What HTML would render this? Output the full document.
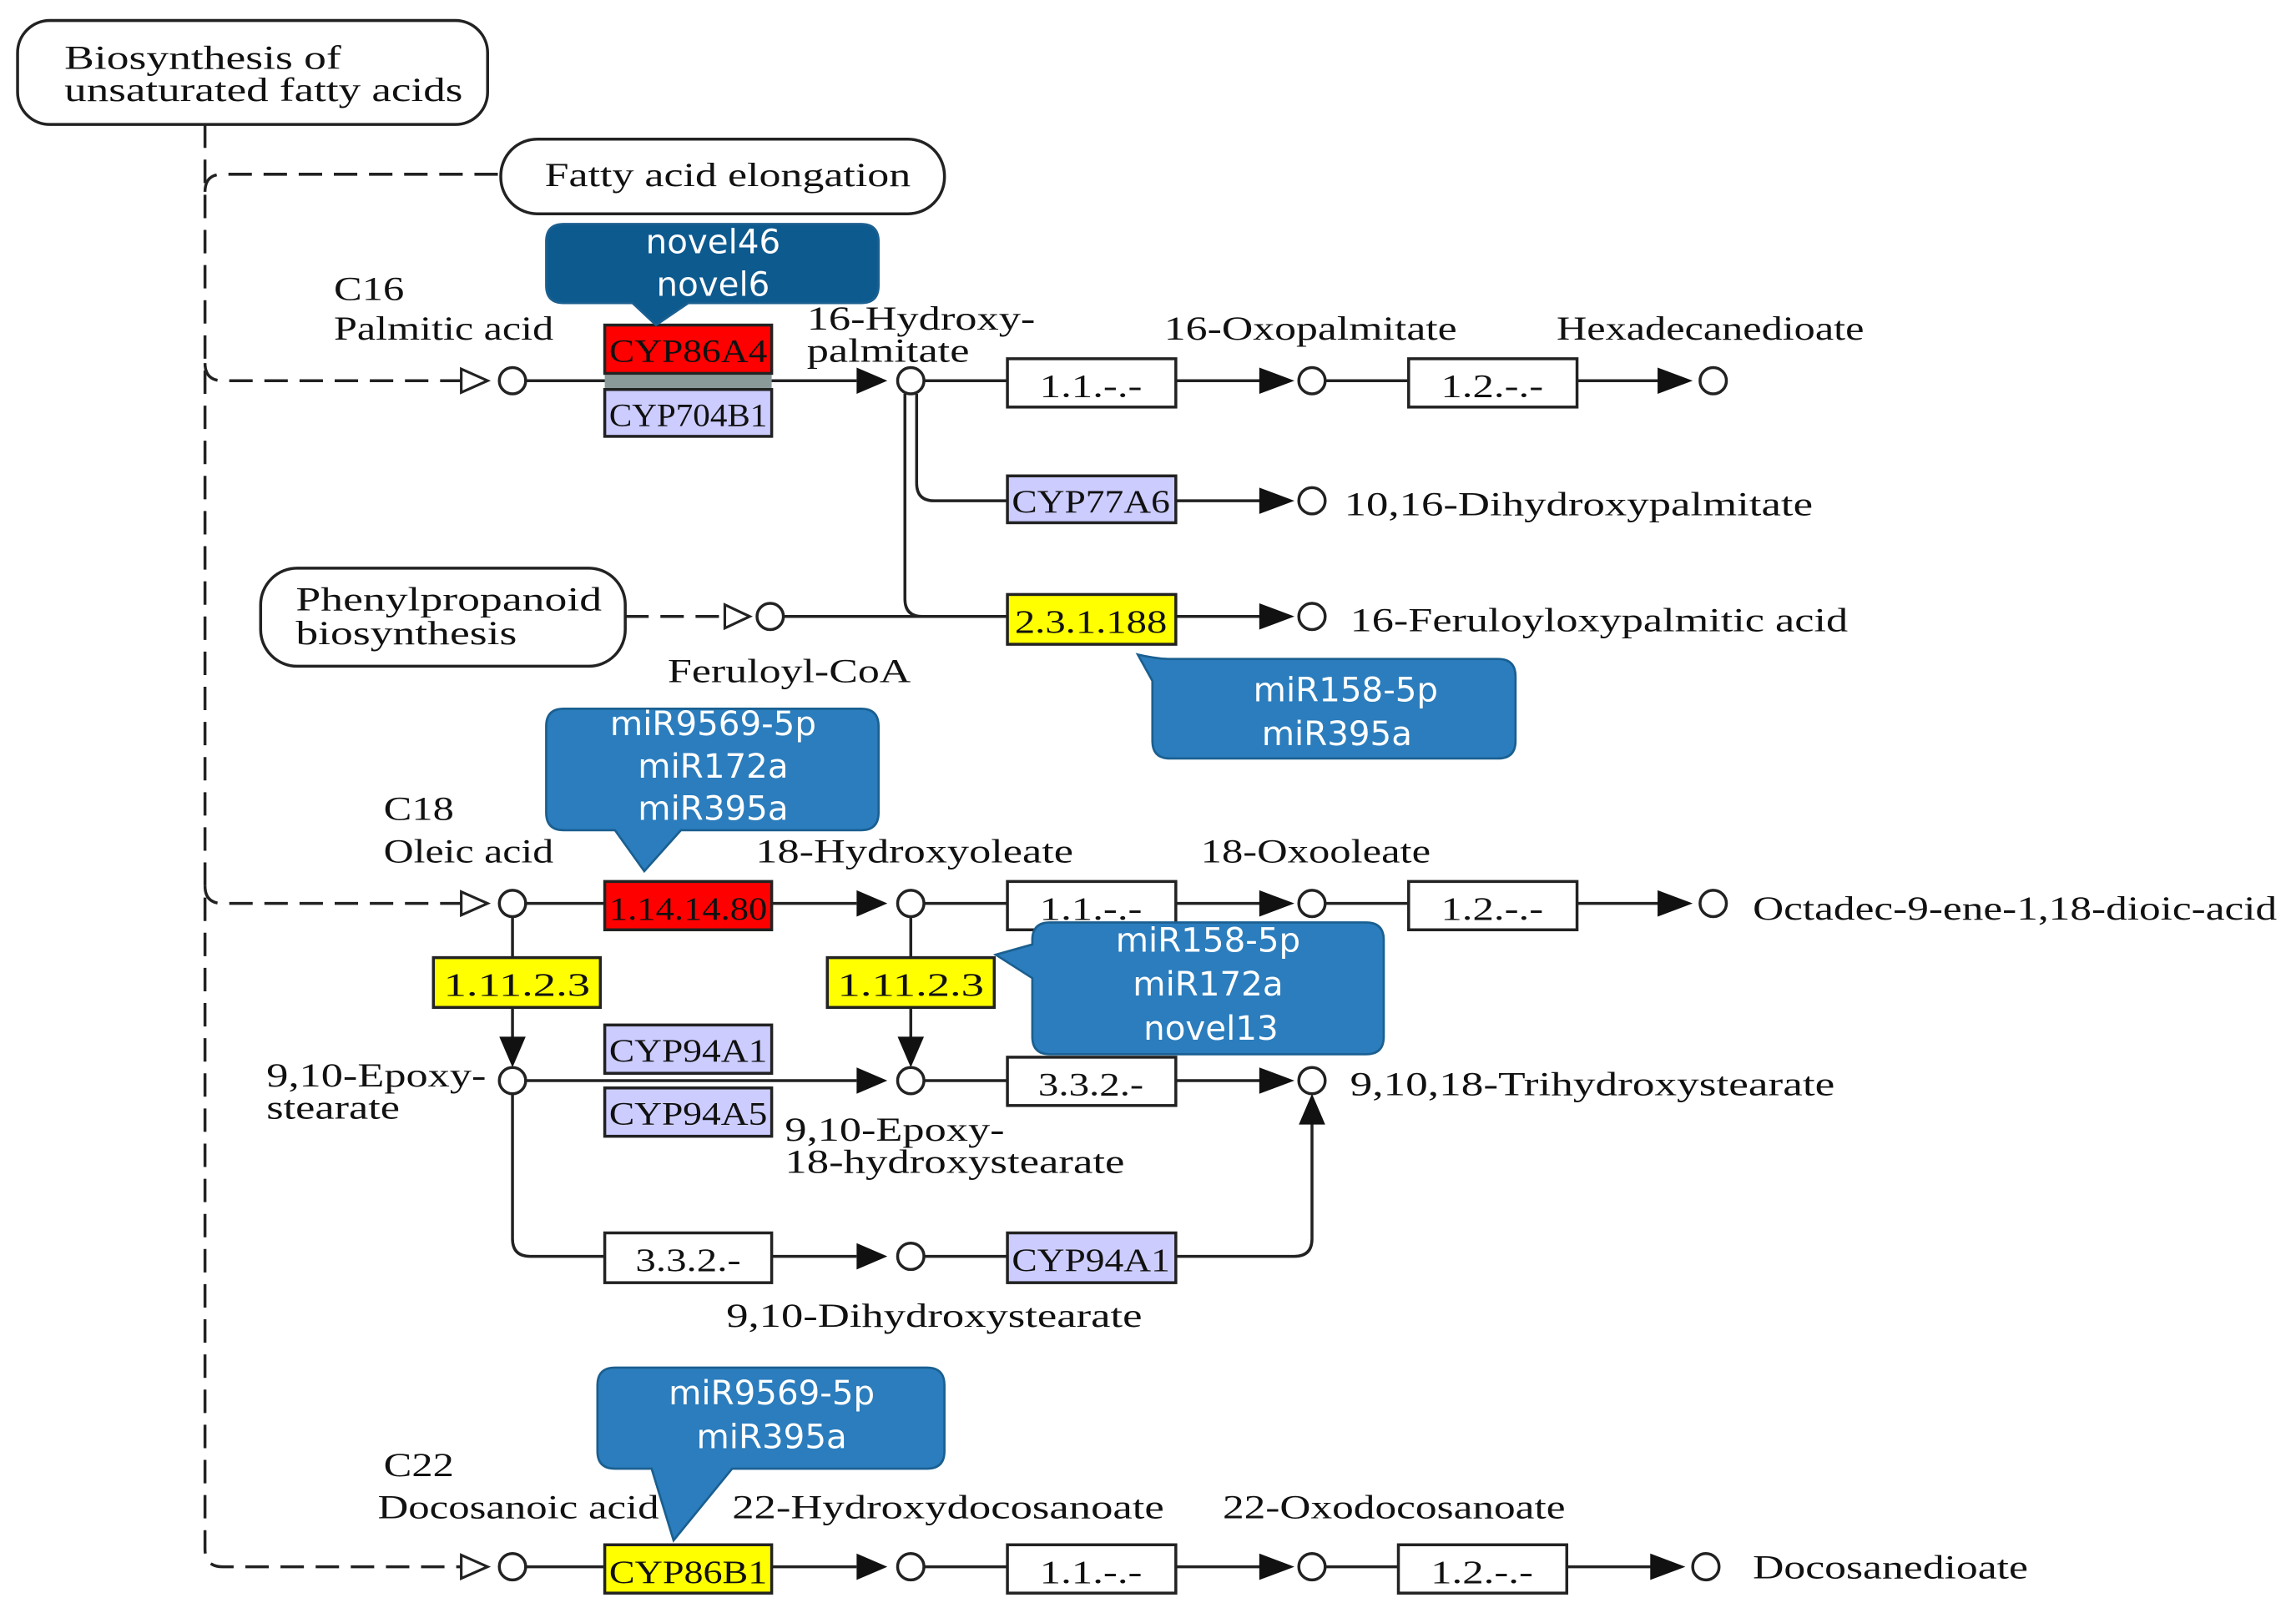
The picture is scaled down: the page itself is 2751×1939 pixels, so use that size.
<!DOCTYPE html>
<html><head><meta charset="utf-8"><style>
html,body{margin:0;padding:0;background:#fff;}
svg{display:block;}
.t{font-family:"Liberation Serif",serif;font-size:23px;fill:#111;}
.e{font-family:"Liberation Serif",serif;font-size:22px;fill:#111;text-anchor:middle;}
.c{font-family:"DejaVu Sans","Liberation Sans",sans-serif;font-size:23px;fill:#fff;text-anchor:middle;}
.ln{stroke:#222;stroke-width:2;fill:none;}
.ds{stroke:#222;stroke-width:2;fill:none;stroke-dasharray:16,8;}
.box{stroke:#222;stroke-width:2;}
</style></head><body>
<svg width="2751" height="1939" viewBox="0 0 1568 1105" preserveAspectRatio="none" xmlns="http://www.w3.org/2000/svg">
<rect width="1568" height="1105" fill="#fff"/>

<rect x="12" y="14" width="321" height="71" rx="22" class="box" fill="#fff"/>
<text class="t" x="44" y="47" textLength="189" lengthAdjust="spacingAndGlyphs">Biosynthesis of</text>
<text class="t" x="44" y="69" textLength="272" lengthAdjust="spacingAndGlyphs">unsaturated fatty acids</text>
<rect x="342" y="95" width="303" height="51" rx="25" class="box" fill="#fff"/>
<text class="t" x="372" y="127" textLength="250" lengthAdjust="spacingAndGlyphs">Fatty acid elongation</text>
<rect x="178" y="388" width="249" height="67" rx="25" class="box" fill="#fff"/>
<text class="t" x="202" y="417" textLength="209" lengthAdjust="spacingAndGlyphs">Phenylpropanoid</text>
<text class="t" x="202" y="440" textLength="151" lengthAdjust="spacingAndGlyphs">biosynthesis</text>

<path class="ds" d="M140,85 V1058 Q140,1070 152,1070 H315"/>
<path class="ds" d="M340,119 H152 Q140,119 140,131"/>
<path class="ds" d="M140,248 Q140,260 152,260 H315"/>
<path class="ds" d="M140,605 Q140,617 152,617 H315"/>
<path class="ds" d="M427,421 H495"/>
<g fill="#fff" stroke="#222" stroke-width="1.8">
<path d="M315,252 L333,260 L315,268z"/>
<path d="M315,609 L333,617 L315,625z"/>
<path d="M315,1062 L333,1070 L315,1078z"/>
<path d="M495,413 L512,421 L495,429z"/>
</g>

<g class="ln">
<path d="M359,260 H585"/><path d="M631,260 H688 M803,260 H880 M905,260 H962 M1077,260 H1150"/>
<path d="M626,269 V330 Q626,342 638,342 H688 M803,342 H880"/>
<path d="M618,269 V409 Q618,421 630,421"/>
<path d="M535,421 H688 M803,421 H880"/>
<path d="M359,617 H413 M527,617 H585 M631,617 H688 M803,617 H880 M905,617 H962 M1077,617 H1150"/>
<path d="M350,626 V718"/><path d="M622,626 V718"/>
<path d="M359,738 H585 M631,738 H688 M803,738 H880"/>
<path d="M350,747 V846 Q350,858 362,858 H413 M527,858 H585 M631,858 H688 M803,858 H884 Q896,858 896,846 V760"/>
<path d="M359,1070 H413 M527,1070 H585 M631,1070 H688 M803,1070 H880 M905,1070 H955 M1070,1070 H1145"/>
</g>
<g fill="#111">
<path d="M585,251 L606,260 L585,269z"/>
<path d="M860,251 L884,260 L860,269z"/><path d="M1132,251 L1156,260 L1132,269z"/>
<path d="M860,333 L884,342 L860,351z"/><path d="M860,412 L884,421 L860,430z"/>
<path d="M585,608 L606,617 L585,626z"/><path d="M860,608 L884,617 L860,626z"/><path d="M1132,608 L1156,617 L1132,626z"/>
<path d="M341,708 L350,729 L359,708z"/><path d="M613,708 L622,729 L631,708z"/>
<path d="M585,729 L606,738 L585,747z"/><path d="M860,729 L884,738 L860,747z"/>
<path d="M887,768 L896,747 L905,768z"/>
<path d="M585,849 L606,858 L585,867z"/>
<path d="M585,1061 L606,1070 L585,1079z"/><path d="M860,1061 L884,1070 L860,1079z"/><path d="M1127,1061 L1151,1070 L1127,1079z"/>
</g>
<g fill="#fff" stroke="#222" stroke-width="2">
<circle cx="350" cy="260" r="9"/><circle cx="622" cy="260" r="9"/><circle cx="896" cy="260" r="9"/><circle cx="1170" cy="260" r="9"/>
<circle cx="896" cy="342" r="9"/><circle cx="526" cy="421" r="9"/><circle cx="896" cy="421" r="9"/>
<circle cx="350" cy="617" r="9"/><circle cx="622" cy="617" r="9"/><circle cx="896" cy="617" r="9"/><circle cx="1170" cy="617" r="9"/>
<circle cx="350" cy="738" r="9"/><circle cx="622" cy="738" r="9"/><circle cx="896" cy="738" r="9"/>
<circle cx="622" cy="858" r="9"/>
<circle cx="350" cy="1070" r="9"/><circle cx="622" cy="1070" r="9"/><circle cx="896" cy="1070" r="9"/><circle cx="1165" cy="1070" r="9"/>
</g>

<rect x="413" y="256" width="114" height="10" fill="#8a9a98"/>
<g class="box">
<rect x="413" y="222" width="114" height="33" fill="#f00"/>
<rect x="413" y="266" width="114" height="32" fill="#ccccff"/>
<rect x="688" y="245" width="115" height="33" fill="#fff"/>
<rect x="962" y="245" width="115" height="33" fill="#fff"/>
<rect x="688" y="325" width="115" height="32" fill="#ccccff"/>
<rect x="688" y="406" width="115" height="34" fill="#ff0"/>
<rect x="413" y="602" width="114" height="33" fill="#f00"/>
<rect x="688" y="602" width="115" height="33" fill="#fff"/>
<rect x="962" y="602" width="115" height="33" fill="#fff"/>
<rect x="296" y="654" width="114" height="34" fill="#ff0"/>
<rect x="565" y="654" width="114" height="34" fill="#ff0"/>
<rect x="413" y="700" width="114" height="33" fill="#ccccff"/>
<rect x="413" y="743" width="114" height="33" fill="#ccccff"/>
<rect x="688" y="722" width="115" height="33" fill="#fff"/>
<rect x="413" y="842" width="114" height="34" fill="#fff"/>
<rect x="688" y="842" width="115" height="34" fill="#ccccff"/>
<rect x="413" y="1055" width="114" height="33" fill="#ff0"/>
<rect x="688" y="1055" width="115" height="33" fill="#fff"/>
<rect x="955" y="1055" width="115" height="33" fill="#fff"/>
</g>
<g class="e">
<text x="470" y="247" textLength="108" lengthAdjust="spacingAndGlyphs">CYP86A4</text><text x="470" y="291" textLength="108" lengthAdjust="spacingAndGlyphs">CYP704B1</text>
<text x="745" y="271" textLength="70" lengthAdjust="spacingAndGlyphs">1.1.-.-</text><text x="1019" y="271" textLength="70" lengthAdjust="spacingAndGlyphs">1.2.-.-</text>
<text x="745" y="350" textLength="108" lengthAdjust="spacingAndGlyphs">CYP77A6</text><text x="745" y="432" textLength="104" lengthAdjust="spacingAndGlyphs">2.3.1.188</text>
<text x="470" y="628" textLength="108" lengthAdjust="spacingAndGlyphs">1.14.14.80</text><text x="745" y="628" textLength="70" lengthAdjust="spacingAndGlyphs">1.1.-.-</text><text x="1019" y="628" textLength="70" lengthAdjust="spacingAndGlyphs">1.2.-.-</text>
<text x="353" y="680" textLength="100" lengthAdjust="spacingAndGlyphs">1.11.2.3</text><text x="622" y="680" textLength="100" lengthAdjust="spacingAndGlyphs">1.11.2.3</text>
<text x="470" y="725" textLength="108" lengthAdjust="spacingAndGlyphs">CYP94A1</text><text x="470" y="768" textLength="108" lengthAdjust="spacingAndGlyphs">CYP94A5</text>
<text x="745" y="748" textLength="72" lengthAdjust="spacingAndGlyphs">3.3.2.-</text><text x="470" y="868" textLength="72" lengthAdjust="spacingAndGlyphs">3.3.2.-</text><text x="745" y="868" textLength="108" lengthAdjust="spacingAndGlyphs">CYP94A1</text>
<text x="470" y="1081" textLength="108" lengthAdjust="spacingAndGlyphs">CYP86B1</text><text x="745" y="1081" textLength="70" lengthAdjust="spacingAndGlyphs">1.1.-.-</text><text x="1012" y="1081" textLength="70" lengthAdjust="spacingAndGlyphs">1.2.-.-</text>
</g>

<g class="t">
<text x="228" y="205" textLength="48" lengthAdjust="spacingAndGlyphs">C16</text><text x="228" y="232" textLength="150" lengthAdjust="spacingAndGlyphs">Palmitic acid</text>
<text x="551" y="225" textLength="156" lengthAdjust="spacingAndGlyphs">16-Hydroxy-</text><text x="551" y="247" textLength="111" lengthAdjust="spacingAndGlyphs">palmitate</text>
<text x="795" y="232" textLength="200" lengthAdjust="spacingAndGlyphs">16-Oxopalmitate</text><text x="1063" y="232" textLength="210" lengthAdjust="spacingAndGlyphs">Hexadecanedioate</text>
<text x="918" y="352" textLength="320" lengthAdjust="spacingAndGlyphs">10,16-Dihydroxypalmitate</text>
<text x="922" y="431" textLength="340" lengthAdjust="spacingAndGlyphs">16-Feruloyloxypalmitic acid</text>
<text x="456" y="466" textLength="166" lengthAdjust="spacingAndGlyphs">Feruloyl-CoA</text>
<text x="262" y="560" textLength="48" lengthAdjust="spacingAndGlyphs">C18</text><text x="262" y="589" textLength="116" lengthAdjust="spacingAndGlyphs">Oleic acid</text>
<text x="516" y="589" textLength="217" lengthAdjust="spacingAndGlyphs">18-Hydroxyoleate</text><text x="820" y="589" textLength="157" lengthAdjust="spacingAndGlyphs">18-Oxooleate</text>
<text x="1197" y="628" textLength="358" lengthAdjust="spacingAndGlyphs">Octadec-9-ene-1,18-dioic-acid</text>
<text x="182" y="742" textLength="150" lengthAdjust="spacingAndGlyphs">9,10-Epoxy-</text><text x="182" y="764" textLength="91" lengthAdjust="spacingAndGlyphs">stearate</text>
<text x="536" y="779" textLength="150" lengthAdjust="spacingAndGlyphs">9,10-Epoxy-</text><text x="536" y="801" textLength="232" lengthAdjust="spacingAndGlyphs">18-hydroxystearate</text>
<text x="922" y="748" textLength="331" lengthAdjust="spacingAndGlyphs">9,10,18-Trihydroxystearate</text>
<text x="496" y="906" textLength="284" lengthAdjust="spacingAndGlyphs">9,10-Dihydroxystearate</text>
<text x="262" y="1008" textLength="48" lengthAdjust="spacingAndGlyphs">C22</text><text x="258" y="1037" textLength="192" lengthAdjust="spacingAndGlyphs">Docosanoic acid</text>
<text x="500" y="1037" textLength="295" lengthAdjust="spacingAndGlyphs">22-Hydroxydocosanoate</text><text x="835" y="1037" textLength="234" lengthAdjust="spacingAndGlyphs">22-Oxodocosanoate</text>
<text x="1197" y="1078" textLength="188" lengthAdjust="spacingAndGlyphs">Docosanedioate</text>
</g>

<g stroke="#1a5f90" stroke-width="1.5">
<path d="M385,153 H588 Q600,153 600,165 V195 Q600,207 588,207 H470 L448,222 L432,207 H385 Q373,207 373,195 V165 Q373,153 385,153z" fill="#0d5a8f"/>
<path d="M799,450 H1023 Q1035,450 1035,462 V506 Q1035,518 1023,518 H799 Q787,518 787,506 V465 L777,447 Q790,450 799,450z" fill="#2b7dbd"/>
<path d="M385,484 H588 Q600,484 600,496 V555 Q600,567 588,567 H465 L440,595 L420,567 H385 Q373,567 373,555 V496 Q373,484 385,484z" fill="#2b7dbd"/>
<path d="M717,630 H933 Q945,630 945,642 V708 Q945,720 933,720 H717 Q705,720 705,708 V668 L680,652 L705,645 V642 Q705,630 717,630z" fill="#2b7dbd"/>
<path d="M420,934 H633 Q645,934 645,946 V991 Q645,1003 633,1003 H500 L460,1052 L445,1003 H420 Q408,1003 408,991 V946 Q408,934 420,934z" fill="#2b7dbd"/>
</g>
<g class="c">
<text x="487" y="173">novel46</text><text x="487" y="202">novel6</text>
<text x="919" y="479">miR158-5p</text><text x="913" y="509">miR395a</text>
<text x="487" y="502">miR9569-5p</text><text x="487" y="531">miR172a</text><text x="487" y="560">miR395a</text>
<text x="825" y="650">miR158-5p</text><text x="825" y="680">miR172a</text><text x="827" y="710">novel13</text>
<text x="527" y="959">miR9569-5p</text><text x="527" y="989">miR395a</text>
</g>
</svg>
</body></html>
